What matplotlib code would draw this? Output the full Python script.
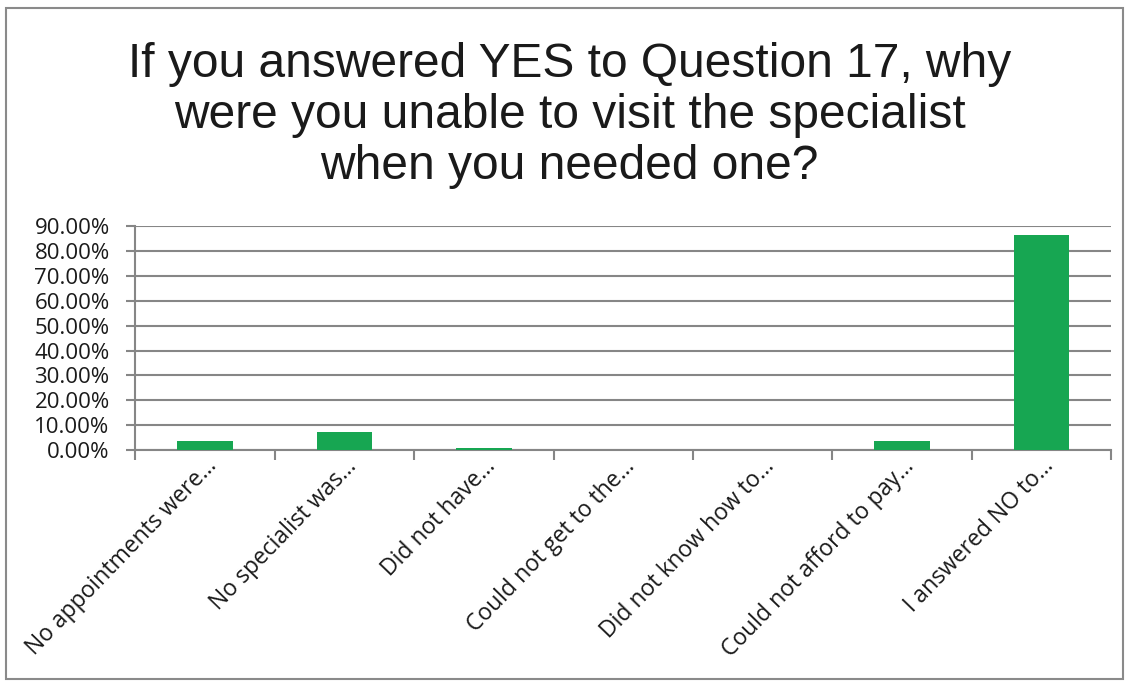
import numpy as np
import matplotlib.pyplot as plt
from matplotlib.patches import Rectangle
from matplotlib.ticker import FuncFormatter, FixedLocator

# Survey answers (share of respondents)
categories = ["No appointments were...", "No specialist was...", "Did not have...",
              "Could not get to the...", "Did not know how to...",
              "Could not afford to pay...", "I answered NO to..."]
values = [0.036, 0.072, 0.008, 0.0, 0.0, 0.038, 0.865]
y_ticks = [0.0, 0.1, 0.2, 0.3, 0.4, 0.5, 0.6, 0.7, 0.8, 0.9]
title = "If you answered YES to Question 17, why\nwere you unable to visit the specialist\nwhen you needed one?"

grid_col = "#868686"
bar_col = "#17a652"

fig = plt.figure(figsize=(11.28, 6.81), dpi=100)
ax = fig.add_axes([0.120, 0.339, 0.865, 0.329])

x = np.arange(len(categories))
ax.bar(x, values, width=0.4, color=bar_col, zorder=3)

ax.set_xlim(-0.5, len(categories) - 0.5)
ax.set_ylim(0, 0.9)
ax.set_yticks(y_ticks)
ax.yaxis.set_major_formatter(FuncFormatter(lambda v, p: f"{v*100:.2f}%"))
ax.grid(axis="y", color=grid_col, lw=1.5, zorder=0)

# Excel style: ticks on category boundaries, labels at centres
ax.xaxis.set_major_locator(FixedLocator(np.arange(len(categories) + 1) - 0.5))
ax.set_xticklabels([])
ax.tick_params(axis="x", which="major", length=7, width=1.5, color=grid_col, direction="out")
ax.tick_params(axis="y", length=6.5, width=1.5, color=grid_col, labelsize=16, pad=12)
for lab in ax.get_yticklabels():
    lab.set_family("Open Sans")
    lab.set_color("#1a1a1a")

for i, c in enumerate(categories):
    ax.annotate(c, xy=(i, 0), xycoords=("data", "axes fraction"),
                xytext=(6, -9), textcoords="offset points",
                rotation=46, rotation_mode="anchor", ha="right", va="center",
                fontsize=16.5, family="Open Sans", color="#1a1a1a")

for s in ["top", "right"]:
    ax.spines[s].set_visible(False)
for s in ["left", "bottom"]:
    ax.spines[s].set_color(grid_col)
    ax.spines[s].set_linewidth(1.5)

fig.text(0.505, 0.831, title, ha="center", va="center", fontsize=34.5,
         family="Liberation Sans", linespacing=1.17, color="#1a1a1a")

# chart border
fig.patches.append(Rectangle((0.005, 0.003), 0.991, 0.985, transform=fig.transFigure,
                             fill=False, edgecolor="#8a8a8a", lw=1.5))

fig.savefig("out.png", dpi=100)
